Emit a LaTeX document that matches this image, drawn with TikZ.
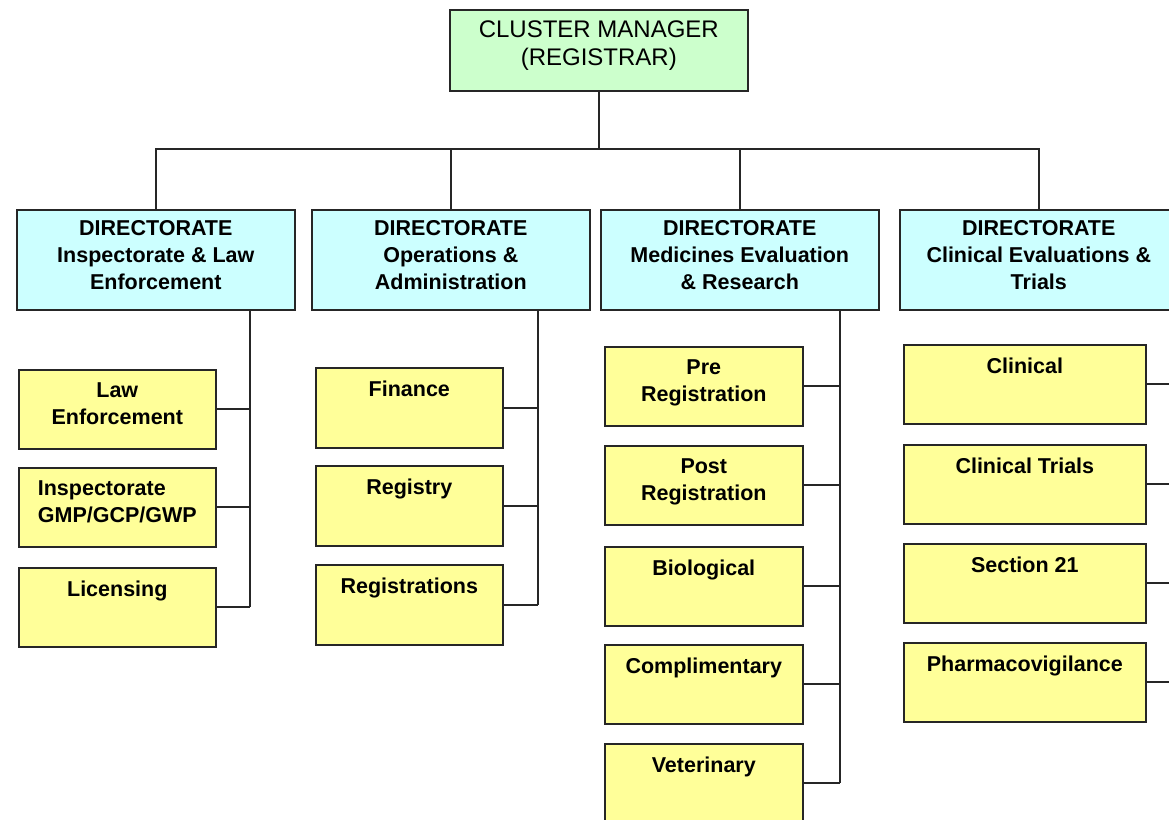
\documentclass[tikz,border=0pt]{standalone}
\usepackage{fontspec}
\setmainfont{Liberation Sans}
\definecolor{mgrgreen}{HTML}{CCFFCC}
\definecolor{dircyan}{HTML}{CCFFFF}
\definecolor{unityellow}{HTML}{FFFF99}
\def\width{1169}
\def\hauteur{819}
\def\subh{79}

\begin{document}
\begin{tikzpicture}[x=1pt, y=-1pt,
  box/.style={draw=black!85, line width=1.6pt, anchor=north west, inner sep=0pt},
  txt/.style={anchor=north, inner sep=0pt, align=center, font=\fontsize{21.5}{27}\selectfont\bfseries},
  link/.style={draw=black!85, line width=1.8pt}]
\clip (0,0) rectangle (\width,\hauteur);
\fill[white] (0,0) rectangle (\width,\hauteur);

% cluster manager
\node[box, fill=mgrgreen, minimum width=298, minimum height=81,
  label={[txt, font=\fontsize{24}{28}\selectfont, yshift=-12]north:{CLUSTER MANAGER\\(REGISTRAR)}}] (cm) at (449,9) {};

% directorates
\foreach \n/\x/\txt in {d1/16/{Inspectorate \& Law\\Enforcement}, d2/311/{Operations \&\\Administration},
    d3/600/{Medicines Evaluation\\\& Research}, d4/899/{Clinical Evaluations \&\\Trials}}
  \node[box, fill=dircyan, minimum width=278, minimum height=100,
    label={[txt, yshift=-11.5]north:{DIRECTORATE\\\txt}}] (\n) at (\x,209) {};

\coordinate (bus) at (cm.south |- 0,149);
\draw[link] (cm.south) -- (bus);
\draw[link] (d1.north) -- (d1.north |- bus) -- (d4.north |- bus) -- (d4.north);
\draw[link] (d2.north) -- (d2.north |- bus);
\draw[link] (d3.north) -- (d3.north |- bus);

% units of directorate 1
\foreach \n/\y/\txt in {law/369/{Law\\Enforcement}, lic/567/Licensing}
  \node[box, fill=unityellow, minimum width=197, minimum height=\subh,
    label={[txt, yshift=-13.5]north:{\txt}}] (\n) at (18,\y) {};
\node[box, fill=unityellow, minimum width=197, minimum height=\subh,
  label={[txt, align=left, yshift=-13.5]north:{Inspectorate\\GMP/GCP/GWP}}] (insp) at (18,467) {};
\coordinate (sp1) at (250,309);
\draw[link] (sp1) -- (sp1 |- lic.east);
\foreach \n in {law,insp,lic}
  \draw[link] (\n.east) -- (\n.east -| sp1);

% units of directorate 2
\foreach \n/\y/\txt in {fin/367/Finance, reg/465/Registry, regs/564/Registrations}
  \node[box, fill=unityellow, minimum width=187, minimum height=80,
    label={[txt, yshift=-14]north:{\txt}}] (\n) at (315,\y) {};
\coordinate (sp2) at (538,309);
\draw[link] (sp2) -- (sp2 |- regs.east);
\foreach \n in {fin,reg,regs}
  \draw[link] (\n.east) -- (\n.east -| sp2);

% units of directorate 3
\foreach \n/\y/\txt in {pre/346/{Pre\\Registration}, post/445/{Post\\Registration}, bio/546/Biological,
    comp/644/Complimentary, vet/743/Veterinary}
  \node[box, fill=unityellow, minimum width=198, minimum height=\subh,
    label={[txt, yshift=-13.5]north:{\txt}}] (\n) at (604,\y) {};
\coordinate (sp3) at (840,309);
\draw[link] (sp3) -- (sp3 |- vet.east);
\foreach \n in {pre,post,bio,comp,vet}
  \draw[link] (\n.east) -- (\n.east -| sp3);

% units of directorate 4
\foreach \n/\y/\txt in {clin/344/Clinical, trial/444/Clinical Trials, sec/543/Section 21,
    pv/642/Pharmacovigilance}
  \node[box, fill=unityellow, minimum width=242, minimum height=\subh,
    label={[txt, yshift=-14]north:{\txt}}] (\n) at (903,\y) {};
\coordinate (sp4) at (1180,309);
\foreach \n in {clin,trial,sec,pv}
  \draw[link] (\n.east) -- (\n.east -| sp4);
\end{tikzpicture}
\end{document}
